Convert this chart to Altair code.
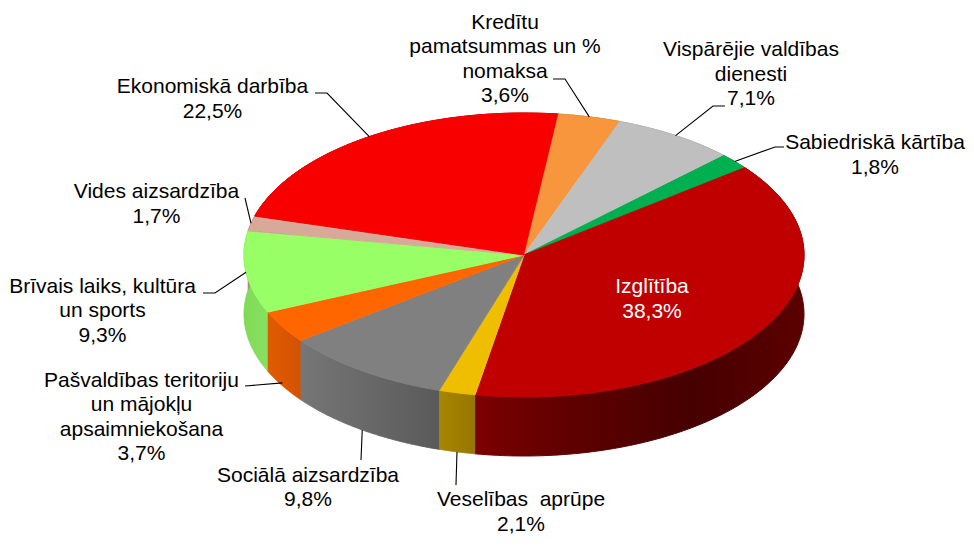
import altair as alt
import pandas as pd

# ---------------- data ----------------
categories = [
    "Kredītu pamatsummas un % nomaksa",
    "Vispārējie valdības dienesti",
    "Sabiedriskā kārtība",
    "Izglītība",
    "Veselības aprūpe",
    "Sociālā aizsardzība",
    "Pašvaldības teritoriju un mājokļu apsaimniekošana",
    "Brīvais laiks, kultūra un sports",
    "Vides aizsardzība",
    "Ekonomiskā darbība",
]
values = [3.6, 7.1, 1.8, 38.3, 2.1, 9.8, 3.7, 9.3, 1.7, 22.5]
label_names = [
    "Kredītu\npamatsummas un %\nnomaksa",
    "Vispārējie valdības\ndienesti",
    "Sabiedriskā kārtība",
    "Izglītība",
    "Veselības \u00a0aprūpe",
    "Sociālā aizsardzība",
    "Pašvaldības teritoriju\nun mājokļu\napsaimniekošana",
    "Brīvais laiks, kultūra\nun sports",
    "Vides aizsardzība",
    "Ekonomiskā darbība",
]
pct_labels = ["3,6%", "7,1%", "1,8%", "38,3%", "2,1%", "9,8%", "3,7%", "9,3%", "1,7%", "22,5%"]

# ---------------- styles ----------------
top_colors = ["#F7963C", "#BFBFBF", "#00B050", "#C00000", "#F0BE00",
              "#808080", "#FF6600", "#99FF66", "#D8A898", "#F80000"]
wall_stops = [
    [(0, "#B86A2A"), (1, "#A05A20")],
    [(0, "#8C8C8C"), (1, "#7A7A7A")],
    [(0, "#007A38"), (1, "#006A30")],
    [(0, "#7C0000"), (0.3, "#5E0000"), (0.65, "#460000"), (1, "#5C0000")],
    [(0, "#A88600"), (1, "#967600")],
    [(0, "#767676"), (1, "#5A5A5A")],
    [(0, "#E05C00"), (1, "#D35200")],
    [(0, "#80DA58"), (1, "#88E060")],
    [(0, "#B08878"), (1, "#A07868")],
    [(0, "#B00000"), (1, "#A00000")],
]
label_colors = ["black", "black", "black", "white", "black",
                "black", "black", "black", "black", "black"]

# ---------------- layout ----------------
W, H = 958, 531
M = 8                      # page margin
CX, CY = 524 - M, 255 - M  # pie centre (chart coords)
RX, RY, DEPTH = 280, 142, 59
START_DEG = 7
N = 120

label_x = [505, 751, 875, 652, 521, 308, 141.5, 102.5, 156.5, 212.5]
label_y = [28.5, 56, 149, 293, 506, 481.5, 386.5, 292.5, 198, 93]
LINE_H = 24.5
leader_drop = [0, 0, 0, None, 1, 1, 0.95, 0, 0, 0]
leader_e1x = [565, 713, 775, None, 456, 361, 245, 215, 245, 327]
leader_e1y = [79, 106, 147, None, 485, 460, 386, 293, 198, 93]
leader_e2x = [553, 725, 784, None, 456, 361, 245, 203, 245, 315]
leader_e2y = [79, 106, 147, None, 485, 460, 386, 293, 198, 93]

base = pd.DataFrame({"cat": categories, "value": values, "idx": list(range(len(categories)))})

X = alt.X("px:Q", scale=alt.Scale(domain=[0, W], nice=False, zero=False), axis=None)
Y = alt.Y("py:Q", scale=alt.Scale(domain=[0, H], nice=False, zero=False, reverse=True), axis=None)


def slices(steps, extra=None):
    df = base.copy()
    df["steps"] = [list(steps) for _ in range(len(df))]
    if extra:
        for k, v in extra.items():
            df[k] = v
    return (
        alt.Chart(df)
        .transform_joinaggregate(total="sum(value)")
        .transform_window(cum="sum(value)", sort=[alt.SortField("idx", order="ascending")], frame=[None, 0])
        .transform_calculate(
            a0=f"{START_DEG}*PI/180 + 2*PI*(datum.cum - datum.value)/datum.total",
            a1=f"{START_DEG}*PI/180 + 2*PI*datum.cum/datum.total",
        )
        .transform_flatten(["steps"], as_=["step"])
    )


# side walls
walls = []
for i, cat in enumerate(categories):
    grad = alt.Gradient(
        gradient="linear",
        stops=[alt.GradientStop(color=c, offset=o) for o, c in wall_stops[i]],
        x1=0, x2=1, y1=0, y2=0,
    )
    w = (
        slices(range(0, 2 * N + 2))
        .transform_filter(alt.datum.cat == cat)
        .transform_calculate(
            k=f"datum.step <= {N} ? datum.step : {2 * N + 1} - datum.step",
            t=f"datum.a0 + (datum.a1 - datum.a0) * datum.k / {N}",
            px=f"{CX} + {RX} * sin(datum.t)",
            py=f"{CY} - {RY} * cos(datum.t) + (datum.step > {N} ? {DEPTH} : 0)",
        )
        .mark_line(filled=True, fill=grad, stroke=grad, strokeWidth=1)
        .encode(x=X, y=Y, order=alt.Order("step:Q"))
    )
    walls.append(w)

# top surface
color_scale = alt.Scale(domain=categories, range=top_colors)
top = (
    slices(range(-1, N + 1))
    .transform_calculate(
        t=f"datum.a0 + (datum.a1 - datum.a0) * max(datum.step, 0) / {N}",
        px=f"datum.step < 0 ? {CX} : {CX} + {RX} * sin(datum.t)",
        py=f"datum.step < 0 ? {CY} : {CY} - {RY} * cos(datum.t)",
    )
    .mark_line(filled=True, strokeWidth=1, strokeJoin="round")
    .encode(
        x=X, y=Y, order=alt.Order("step:Q"),
        color=alt.Color("cat:N", scale=color_scale, legend=None),
        stroke=alt.Stroke("cat:N", scale=color_scale, legend=None),
        detail="cat:N",
    )
)

# leader lines
leaders = (
    slices([0, 1, 2], {"drop": leader_drop, "e1x": leader_e1x, "e1y": leader_e1y,
                       "e2x": leader_e2x, "e2y": leader_e2y})
    .transform_filter("isValid(datum.e1x)")
    .transform_calculate(
        am="(datum.a0 + datum.a1) / 2",
        px=f"datum.step == 0 ? {CX} + {RX} * sin(datum.am) : (datum.step == 1 ? datum.e1x - {M} : datum.e2x - {M})",
        py=f"datum.step == 0 ? {CY} - {RY} * cos(datum.am) + {DEPTH} * datum.drop : (datum.step == 1 ? datum.e1y - {M} : datum.e2y - {M})",
    )
    .mark_line(color="black", strokeWidth=1.1)
    .encode(x=X, y=Y, order=alt.Order("step:Q"), detail="cat:N")
)

# labels
lab_df = pd.DataFrame({
    "cat": categories,
    "text": [n + "\n" + p for n, p in zip(label_names, pct_labels)],
    "px": [x - M for x in label_x],
    "py": [y - M for y in label_y],
    "tcolor": label_colors,
})
labels = (
    alt.Chart(lab_df)
    .mark_text(font="Liberation Sans", fontSize=21, lineBreak="\n", lineHeight=LINE_H,
               align="center", baseline="alphabetic")
    .encode(x=X, y=Y, text="text:N", color=alt.Color("tcolor:N", scale=None))
)

chart = (
    alt.layer(*walls, top, leaders, labels)
    .properties(width=W, height=H, padding=0, autosize="none", background="white")
    .configure_view(stroke=None)
)
chart.save("out.html", embed_options={"renderer": "svg", "actions": False})
